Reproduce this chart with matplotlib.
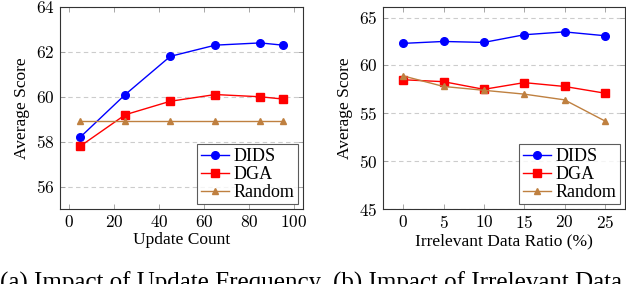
import matplotlib
matplotlib.use("Agg")
import matplotlib.pyplot as plt
from matplotlib.ticker import FuncFormatter

plt.rcParams['font.family'] = ['Liberation Serif', 'DejaVu Serif']
plt.rcParams['mathtext.fontset'] = 'cm'

# Data (a)
update_count = [5, 25, 45, 65, 85, 95]
a_dids = [58.2, 60.1, 61.8, 62.3, 62.4, 62.3]
a_dga = [57.8, 59.2, 59.8, 60.1, 60.0, 59.9]
a_random = [58.9, 58.9, 58.9, 58.9, 58.9, 58.9]

# Data (b)
irrelevant_ratio = [0, 5, 10, 15, 20, 25]
b_dids = [62.3, 62.5, 62.4, 63.2, 63.5, 63.1]
b_dga = [58.5, 58.3, 57.5, 58.2, 57.8, 57.1]
b_random = [58.9, 57.8, 57.4, 57.0, 56.4, 54.2]

series_names = ["DIDS", "DGA", "Random"]
a_xticks = [0, 20, 40, 60, 80, 100]
a_yticks = [56, 58, 60, 62, 64]
b_xticks = [0, 5, 10, 15, 20, 25]
b_yticks = [45, 50, 55, 60, 65]

colors = ['#0000FF', '#FF0000', '#BF8040']
markers = ['o', 's', '^']
msizes = [5.5, 5.5, 4.5]

fig = plt.figure(figsize=(6.26, 2.84), dpi=100)
ax1 = fig.add_axes([60/626, 1-209/284, 243/626, 202/284])
ax2 = fig.add_axes([383/626, 1-209/284, 242/626, 202/284])

fmt = FuncFormatter(lambda v, p: r'$%g$' % v)

def style(ax, x, ys, xticks, yticks, xlim, ylim, xlabel):
    for y, c, m, ms, name in zip(ys, colors, markers, msizes, series_names):
        ax.plot(x, y, color=c, marker=m, markersize=ms, lw=1.0, label=name)
    ax.set_xticks(xticks)
    ax.set_yticks(yticks)
    ax.set_xlim(*xlim)
    ax.set_ylim(*ylim)
    ax.xaxis.set_major_formatter(fmt)
    ax.yaxis.set_major_formatter(fmt)
    ax.yaxis.grid(True, linestyle=(0, (4, 3)), color='#cccccc', lw=0.8)
    ax.set_axisbelow(True)
    ax.tick_params(direction='in', length=3.5, width=0.6, labelsize=12.5,
                   top=True, right=True, color='#999999', pad=4)
    for s in ax.spines.values():
        s.set_linewidth(0.8)
        s.set_color('#333333')
    ax.set_xlabel(xlabel, fontsize=12.5, labelpad=1)
    ax.set_ylabel('Average Score', fontsize=12.5, labelpad=4)
    leg = ax.legend(loc='lower right', fontsize=13, frameon=True, fancybox=False,
                    edgecolor='#333333', handlelength=1.6, handletextpad=0.25,
                    borderpad=0.2, labelspacing=0.05, borderaxespad=0.25)
    leg.get_frame().set_linewidth(0.8)

style(ax1, update_count, [a_dids, a_dga, a_random], a_xticks, a_yticks,
      (-4, 104), (55, 64), 'Update Count')
style(ax2, irrelevant_ratio, [b_dids, b_dga, b_random], b_xticks, b_yticks,
      (-2.5, 27.5), (45, 66.1), 'Irrelevant Data Ratio (%)')

fig.text(0.0, 1-272/284, '(a) Impact of Update Frequency', fontsize=18, ha='left', va='top')
fig.text(333/626, 1-272/284, '(b) Impact of Irrelevant Data', fontsize=18, ha='left', va='top')

fig.savefig('out.png', dpi=100)
